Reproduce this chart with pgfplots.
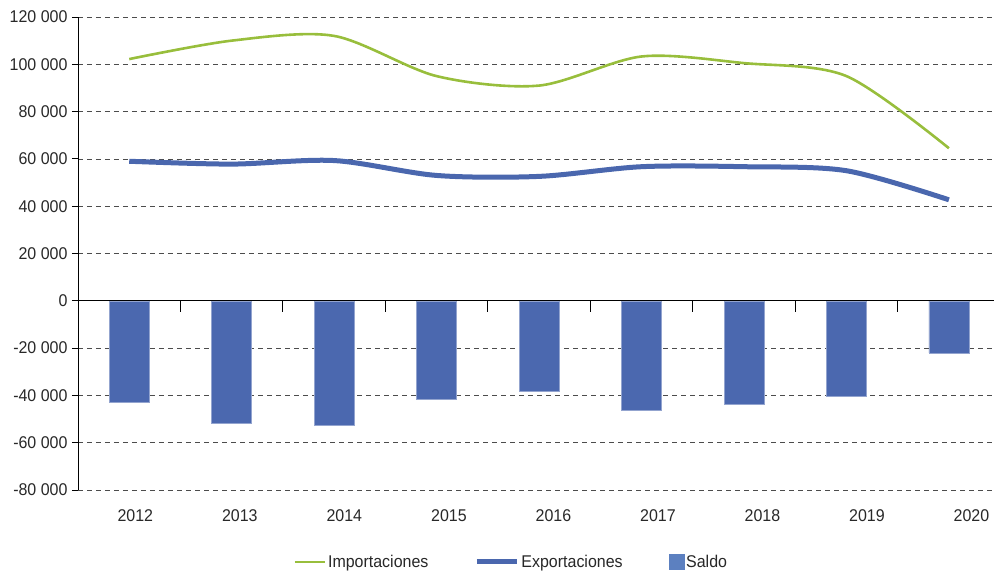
\documentclass[border=0pt]{standalone}
\usepackage{pgfplots}
\pgfplotsset{compat=1.18}
\usepackage{fontspec}
\setmainfont{Liberation Sans}[FakeStretch=0.94]
\definecolor{impg}{RGB}{152,190,60}
\definecolor{expb}{RGB}{74,103,174}
\definecolor{barb}{RGB}{75,104,175}
\definecolor{legb}{RGB}{92,128,192}
\definecolor{txt}{RGB}{40,40,40}
\pgfplotsset{
  linelegend/.style={legend image code/.code={\draw[##1] (0pt,0pt) -- (#1,0pt);}},
  sqlegend/.style={legend image code/.code={\fill[legb] (0pt,-7.5pt) rectangle (15pt,7.5pt);}},
}
\begin{document}
\begin{tikzpicture}
\begin{axis}[
  scale only axis, width=916pt, height=473pt,
  xmin=-0.5, xmax=8.44, ymin=-80000, ymax=120000,
  axis x line*=bottom,
  x axis line style={draw=none},
  xtick={0.059,1.079,2.099,3.12,4.14,5.16,6.18,7.20,8.22},
  xticklabels={2012,2013,2014,2015,2016,2017,2018,2019,2020},
  xtick style={draw=none},
  xticklabel style={yshift=-10pt},
  axis y line*=left,
  scaled y ticks=false,
  ytick={-80000,-60000,-40000,-20000,0,20000,40000,60000,80000,100000,120000},
  yticklabels={-80 000,-60 000,-40 000,-20 000,0,20 000,40 000,60 000,80 000,100 000,120 000},
  ymajorgrids, grid style={black!70, line width=0.6pt, dash pattern=on 5pt off 4pt},
  y axis line style={line width=0.9pt},
  ytick style={line width=0.9pt, black},
  tick align=outside, major tick length=6pt,
  yticklabel style={xshift=-1pt},
  ticklabel style={font=\fontsize{17}{20}\selectfont, text=txt},
  clip=false,
  legend style={at={(axis description cs:0.473,-0.152)}, anchor=center, draw=none,
    legend columns=3, font=\fontsize{17}{20}\selectfont, text=txt,
    /tikz/every odd column/.append style={column sep=0pt},
    /tikz/every even column/.append style={column sep=44pt}},
  legend cell align=left,
]
\addplot[impg, line width=2.6pt, smooth, tension=0.5, linelegend=30pt] coordinates {
(0,102200) (1,110000) (2,112000) (3,95000) (4,91000) (5,103300) (6,100500) (7,95000) (8,64500)};
\addlegendentry{Importaciones}
\addplot[expb, line width=5pt, smooth, tension=0.5, linelegend=40pt] coordinates {
(0,59000) (1,57800) (2,59300) (3,53000) (4,52600) (5,56700) (6,56700) (7,55000) (8,42700)};
\addlegendentry{Exportaciones}
\addplot[ybar, bar width=40pt, fill=barb, draw=barb!60!white, line width=0.5pt, sqlegend] coordinates {
(0,-42800) (1,-51800) (2,-52700) (3,-41600) (4,-38200) (5,-46200) (6,-43800) (7,-40300) (8,-22000)};
\addlegendentry{Saldo}
\draw[black, line width=0.9pt] (axis cs:-0.5,0) -- (axis cs:8.44,0);
\pgfplotsinvokeforeach{0.5,1.5,2.5,3.5,4.5,5.5,6.5,7.5}{\draw[black, line width=0.9pt] (axis cs:#1,0) -- ([yshift=-11pt]axis cs:#1,0);}
\end{axis}
\pgfresetboundingbox
\path (current axis.south west) ++(-78pt,-82pt) rectangle ([xshift=0pt,yshift=17pt]current axis.north east);
\end{tikzpicture}
\end{document}
